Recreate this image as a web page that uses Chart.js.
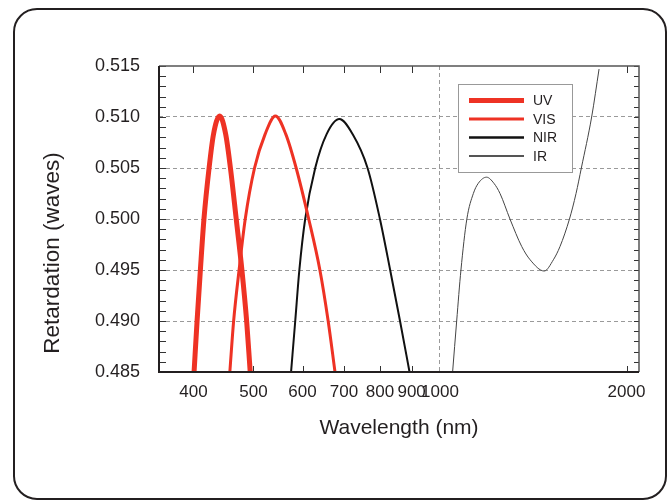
<!DOCTYPE html>
<html>
<head>
<meta charset="utf-8">
<script src="https://cdn.jsdelivr.net/npm/chart.js@4.4.1/dist/chart.umd.min.js"></script>
<style>
    body { margin: 0; background: #fff; }
    #wrap { position: relative; width: 670px; height: 502px; }
    #frame { position: absolute; left: 13px; top: 8px; width: 654px; height: 492px; box-sizing: border-box; border: 2px solid #231f20; border-radius: 24px; }
    #chart { position: absolute; left: 0; top: 0; }
</style>
</head>
<body>
<div id="wrap">
    <div id="frame"></div>
    <canvas id="chart" width="670" height="502"></canvas>
</div>
<script>
// wavelengths (nm) and retardation (waves)
const uvNm = [401, 405.5, 410.5, 416, 424, 431, 441, 451, 459, 469, 479, 487.5, 494];
const uvWaves = [0.485, 0.490, 0.495, 0.500, 0.505, 0.5083, 0.5101, 0.5083, 0.505, 0.500, 0.495, 0.490, 0.485];

const visNm = [458, 464.5, 474, 485, 502, 522, 542.5, 564, 586, 614, 640, 660, 677];
const visWaves = [0.485, 0.490, 0.495, 0.500, 0.505, 0.5083, 0.5101, 0.5083, 0.505, 0.500, 0.495, 0.490, 0.485];

const nirNm = [575, 584, 593, 606, 629, 656, 688, 723, 764, 800, 831, 862, 893];
const nirWaves = [0.485, 0.490, 0.495, 0.500, 0.505, 0.5083, 0.5098, 0.5083, 0.505, 0.500, 0.495, 0.490, 0.485];

const irNm = [1048, 1064, 1081, 1105, 1132, 1153, 1189, 1222, 1250, 1297, 1355, 1398, 1473, 1524, 1562, 1618, 1658, 1691, 1757, 1806];
const irWaves = [0.485, 0.490, 0.495, 0.500, 0.5025, 0.5035, 0.5041, 0.5035, 0.5025, 0.500, 0.4973, 0.4960, 0.4949, 0.4960, 0.4973, 0.500, 0.5025, 0.505, 0.510, 0.5147];

const xTickValues = [400, 500, 600, 700, 800, 900, 1000, 2000];
const yTickValues = [0.485, 0.490, 0.495, 0.500, 0.505, 0.510, 0.515];

const RED = '#ee3224';
const INK = '#231f20';

function points(xs, ys) {
    return xs.map((x, i) => ({ x: x, y: ys[i] }));
}

Chart.defaults.font.family = '"Liberation Sans", Arial, Helvetica, sans-serif';
Chart.defaults.color = INK;

// frame, inward ticks, legend box and y title
const decorations = {
    id: 'decorations',
    beforeDatasetsDraw(chart) {
        const { ctx, chartArea: a, scales } = chart;
        ctx.save();
        ctx.strokeStyle = '#333';
        ctx.lineWidth = 1;
        // minor y ticks every 0.001
        for (let i = 0; i <= 30; i++) {
            const y = Math.round(scales.y.getPixelForValue(0.485 + i * 0.001)) + 0.5;
            ctx.beginPath();
            ctx.moveTo(a.left, y); ctx.lineTo(a.left + 7, y);
            ctx.moveTo(a.right, y); ctx.lineTo(a.right - 5, y);
            ctx.stroke();
        }
        xTickValues.forEach(v => {
            if (v === 1000) return;
            const x = Math.round(scales.x.getPixelForValue(v)) + 0.5;
            ctx.beginPath();
            ctx.moveTo(x, a.top); ctx.lineTo(x, a.top + 7);
            ctx.moveTo(x, a.bottom); ctx.lineTo(x, a.bottom - 6);
            ctx.stroke();
        });
        ctx.restore();
    },
    afterDraw(chart) {
        const { ctx, chartArea: a } = chart;
        ctx.save();
        // plot frame
        ctx.lineWidth = 1.5;
        ctx.strokeStyle = '#555';
        ctx.beginPath();
        ctx.moveTo(a.left, a.top); ctx.lineTo(a.right, a.top); ctx.lineTo(a.right, a.bottom);
        ctx.stroke();
        ctx.lineWidth = 2;
        ctx.strokeStyle = INK;
        ctx.beginPath();
        ctx.moveTo(a.left, a.top); ctx.lineTo(a.left, a.bottom); ctx.lineTo(a.right, a.bottom);
        ctx.stroke();

        // legend
        const bx = 458, by = 84, bw = 114, bh = 88;
        ctx.fillStyle = '#fff';
        ctx.fillRect(bx, by, bw, bh);
        ctx.lineWidth = 1;
        ctx.strokeStyle = '#999';
        ctx.strokeRect(bx + 0.5, by + 0.5, bw, bh);
        ctx.font = '14px "Liberation Sans", Arial, sans-serif';
        ctx.textBaseline = 'middle';
        ctx.fillStyle = INK;
        chart.data.datasets.forEach((ds, i) => {
            const y = 100.5 + i * 18.5;
            ctx.strokeStyle = ds.legendColor || ds.borderColor;
            ctx.lineWidth = ds.legendWidth;
            ctx.beginPath();
            ctx.moveTo(469, y); ctx.lineTo(524, y);
            ctx.stroke();
            ctx.fillText(ds.label, 533, y + 1);
        });

        // y axis title
        ctx.translate(53, 253);
        ctx.rotate(-Math.PI / 2);
        ctx.font = '22.5px "Liberation Sans", Arial, sans-serif';
        ctx.textAlign = 'center';
        ctx.fillText('Retardation (waves)', 0, 0);
        ctx.restore();
    }
};

const curve = { cubicInterpolationMode: 'monotone', pointRadius: 0, fill: false, clip: 0, borderJoinStyle: 'round' };

new Chart(document.getElementById('chart'), {
    type: 'line',
    data: {
        datasets: [
            { ...curve, label: 'UV', data: points(uvNm, uvWaves), borderColor: RED, borderWidth: 5, legendWidth: 5 },
            { ...curve, label: 'VIS', data: points(visNm, visWaves), borderColor: RED, borderWidth: 3, legendWidth: 3 },
            { ...curve, label: 'NIR', data: points(nirNm, nirWaves), borderColor: '#111', borderWidth: 2, legendWidth: 2.5 },
            { ...curve, label: 'IR', data: points(irNm, irWaves), borderColor: '#444', borderWidth: 1, legendWidth: 2, legendColor: '#555' }
        ]
    },
    options: {
        responsive: false,
        animation: false,
        layout: { padding: { top: 66, right: 31, left: 0, bottom: 0 } },
        plugins: {
            legend: { display: false },
            tooltip: { enabled: false }
        },
        scales: {
            x: {
                type: 'logarithmic',
                min: 352,
                max: 2095,
                afterBuildTicks: s => { s.ticks = xTickValues.map(v => ({ value: v })); },
                afterFit: s => { s.height = 130; },
                ticks: {
                    autoSkip: false,
                    maxRotation: 0,
                    padding: 10,
                    font: { size: 17 },
                    callback: v => String(v)
                },
                grid: {
                    drawTicks: false,
                    lineWidth: 1,
                    color: c => (c.tick && c.tick.value === 1000) ? '#9a9a9a' : 'rgba(0,0,0,0)'
                },
                border: { display: false, dash: [4, 3] },
                title: {
                    display: true,
                    text: 'Wavelength (nm)',
                    font: { size: 21 },
                    padding: { top: 0, bottom: 61 }
                }
            },
            y: {
                min: 0.485,
                max: 0.515,
                afterBuildTicks: s => { s.ticks = yTickValues.map(v => ({ value: v })); },
                afterFit: s => { s.width = 159; },
                ticks: {
                    padding: 19,
                    font: { size: 18 },
                    callback: v => v.toFixed(3)
                },
                grid: {
                    drawTicks: false,
                    lineWidth: 1,
                    color: c => (c.index === 0 || c.index === yTickValues.length - 1) ? 'rgba(0,0,0,0)' : '#9a9a9a'
                },
                border: { display: false, dash: [4, 3] }
            }
        }
    },
    plugins: [decorations]
});
</script>
</body>
</html>
